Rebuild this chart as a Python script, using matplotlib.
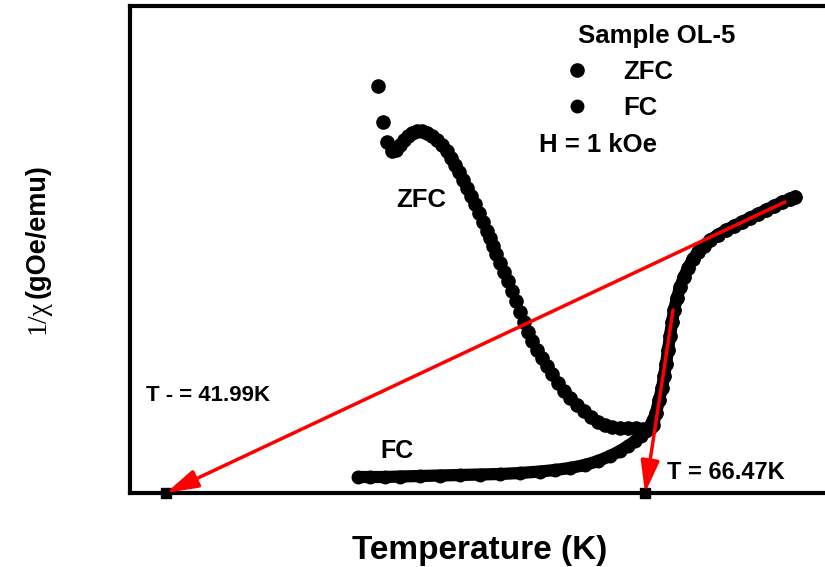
import matplotlib
matplotlib.use('Agg')
from matplotlib import pyplot as plt

plt.rcParams['font.family'] = ['Liberation Sans', 'DejaVu Sans']
plt.rcParams['font.weight'] = 'bold'

# ZFC branch below the merge point (T in K, 1/chi in arbitrary units)
zfc_T = [52.82, 53.08, 53.28, 53.54, 53.74, 53.95, 54.15, 54.36, 54.56, 54.82,
         55.07, 55.33, 55.58, 55.84, 56.09, 56.35, 56.55, 56.76, 56.96, 57.17,
         57.37, 57.58, 57.78, 57.98, 58.19, 58.39, 58.55, 58.70, 58.85, 59.06,
         59.26, 59.47, 59.67, 59.88, 60.08, 60.28, 60.49, 60.69, 60.95, 61.20,
         61.46, 61.72, 62.02, 62.33, 62.63, 62.99, 63.35, 63.71, 64.07, 64.42,
         64.78, 65.19, 65.60, 66.01, 66.37, 66.72, 66.88]
zfc_inv = [407, 371, 351, 342, 343, 348, 353, 357, 360, 362,
           362, 360, 357, 353, 348, 342, 335, 328, 321, 313,
           305, 297, 289, 280, 271, 262, 255, 247, 239, 230,
           221, 212, 202, 192, 181, 171, 161, 152, 143, 135,
           127, 119, 110, 102, 95, 88, 82, 76, 71, 68,
           66, 65, 65, 65, 64, 65, 68]

# FC branch below the merge point
fc_T = [51.80, 52.41, 53.18, 53.95, 54.97, 55.99, 57.01, 58.04, 59.06, 60.08,
        61.10, 61.87, 62.63, 63.40, 64.07, 64.68, 65.19, 65.60, 65.96, 66.26,
        66.52, 66.72, 66.88]
fc_inv = [16, 16, 16, 16.5, 17, 17.5, 18, 18.5, 19, 20,
          21.5, 23, 25, 28, 32, 37, 42, 47, 52, 57,
          62, 67, 73]

# above the merge ZFC and FC coincide
warm_T = [67.03, 67.18, 67.34, 67.44, 67.54, 67.64, 67.74, 67.85, 67.95, 68.10,
          68.26, 68.46, 68.66, 68.92, 69.18, 69.48, 69.79, 70.20, 70.61, 71.02,
          71.42, 71.83, 72.24, 72.65, 73.06, 73.47, 73.88, 74.13]
warm_inv = [80, 93, 105, 117, 129, 143, 157, 171, 183, 195,
            206, 216, 225, 234, 241, 247, 253, 258, 263, 267,
            271, 275, 279, 283, 287, 291, 294, 296]

# tangent lines: (start T, start 1/chi) -> intercept T
tangent_from = [(73.62, 291), (67.90, 183)]
tangent_to = [41.99, 66.47]
tangent_labels = ['T - = 41.99K', 'T = 66.47K']

fig = plt.figure(figsize=(8.25, 5.67), dpi=100)
ax = fig.add_axes([130 / 825, 74 / 567, 710 / 825, 487 / 567])

zT = zfc_T + warm_T
zy = zfc_inv + warm_inv
fT = fc_T + warm_T
fy = fc_inv + warm_inv

ax.plot(fT, fy, '-', color='black', lw=8.8, solid_capstyle='round', zorder=2)
ax.plot(zT, zy, 'o', color='black', ms=9.5, zorder=3, label='ZFC')
ax.plot(fT, fy, 'o', color='black', ms=9, zorder=2, label='FC')

for (t0, y0), t1 in zip(tangent_from, tangent_to):
    ax.plot([t1], [0], 's', color='black', ms=7.5, clip_on=False, zorder=4)
    ax.annotate('', xy=(t1, 0), xytext=(t0, y0), annotation_clip=False,
                arrowprops=dict(arrowstyle='-|>,head_length=0.97,head_width=0.28',
                                color='red', lw=2.5, mutation_scale=20,
                                shrinkA=0, shrinkB=0), zorder=5)

ax.set_xlim(40.15, 76.43)
ax.set_ylim(0, 487)
ax.set_xticks([])
ax.set_yticks([])
for s in ax.spines.values():
    s.set_linewidth(3)
    s.set_clip_on(False)

leg = ax.legend(loc='center', bbox_to_anchor=(0.688, 0.8275), frameon=False,
                fontsize=18.5, handlelength=1.0, handletextpad=1.29,
                labelspacing=0.5, borderpad=0.2)

ax.text(0.742, 0.938, 'Sample OL-5', transform=ax.transAxes, fontsize=18.5,
        ha='center', va='center')
ax.text(0.659, 0.7146, 'H = 1 kOe', transform=ax.transAxes, fontsize=18.5,
        ha='center', va='center')
ax.text(0.410, 0.6016, 'ZFC', transform=ax.transAxes, fontsize=18.5,
        ha='center', va='center')
ax.text(0.376, 0.0862, 'FC', transform=ax.transAxes, fontsize=18,
        ha='center', va='center')
ax.text(0.1106, 0.2012, tangent_labels[0], transform=ax.transAxes, fontsize=16,
        ha='center', va='center')
ax.text(0.839, 0.0431, tangent_labels[1], transform=ax.transAxes, fontsize=17,
        ha='center', va='center')

fig.text(480 / 825, 1 - 550 / 567, 'Temperature (K)', fontsize=24,
         ha='center', va='center')
fig.text(38 / 825, 1 - 317 / 567, '1/\u03c7', fontsize=20, fontweight='normal',
         family=['Liberation Serif', 'DejaVu Serif'],
         rotation=90, ha='center', va='center')
fig.text(38 / 825, 1 - 231 / 567, '(gOe/emu)', fontsize=19.5,
         rotation=90, ha='center', va='center')

fig.savefig('out.png', dpi=100)
